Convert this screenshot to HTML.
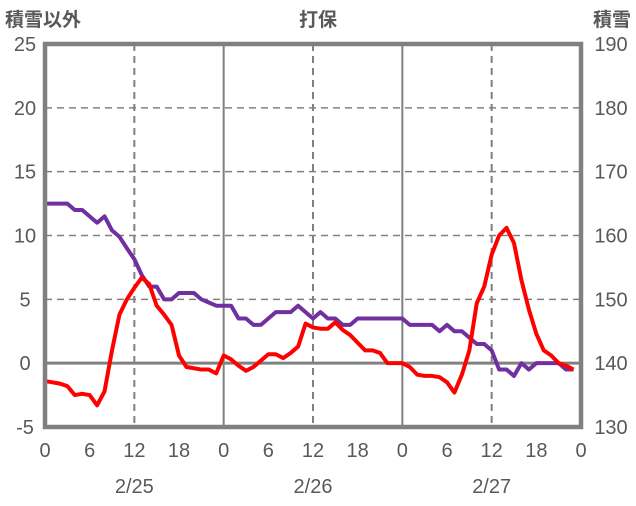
<!DOCTYPE html>
<html><head><meta charset="utf-8"><style>
html,body{margin:0;padding:0;background:#fff;}
svg text{font-family:"Liberation Sans","Noto Sans CJK JP",sans-serif;fill:#595959;}
</style></head><body>
<svg id="chart" width="636" height="501" viewBox="0 0 636 501" xmlns="http://www.w3.org/2000/svg">
<text x="5" y="26" font-size="19" font-weight="bold">積雪以外</text>
<text x="318" y="26" font-size="19" font-weight="bold" text-anchor="middle">打保</text>
<text x="631" y="26" font-size="19" font-weight="bold" text-anchor="end">積雪</text>
<g id="grid"></g><g id="series"></g><g id="axes"></g>
</svg>
<script>
const hours = Array.from({length:72},(_,i)=>i);
const redValues = [-1.4,-1.5,-1.6,-1.8,-2.5,-2.4,-2.5,-3.3,-2.2,1.0,3.8,5.0,5.9,6.7,6.2,4.5,3.8,3.0,0.6,-0.3,-0.4,-0.5,-0.5,-0.8,
0.6,0.3,-0.2,-0.6,-0.3,0.2,0.7,0.7,0.4,0.8,1.3,3.1,2.8,2.7,2.7,3.2,2.6,2.2,1.6,1.0,1.0,0.8,0.0,0.0,
0.0,-0.3,-0.9,-1.0,-1.0,-1.1,-1.5,-2.3,-0.9,1.0,4.7,6.0,8.5,10.0,10.6,9.4,6.5,4.2,2.3,1.0,0.6,0.0,-0.2,-0.5];
const purpleValues = [165,165,165,165,164,164,163,162,163,160.8,159.8,158,156.3,153.8,152,152,150,150,151,151,151,150,149.5,149,
149,149,147,147,146,146,147,148,148,148,149,148,147,148,147,147,146,146,147,147,147,147,147,147,
147,146,146,146,146,145,146,145,145,144,143,143,142,139,139,138,140,139,140,140,140,140,139,139];
const leftTicks = [-5,0,5,10,15,20,25];
const rightTicks = [130,140,150,160,170,180,190];
const xTickLabels = ["0","6","12","18","0","6","12","18","0","6","12","18","0"];
const dayLabels = ["2/25","2/26","2/27"];

const X0=45,X1=581,YT=44,YB=427;
const xs=h=>X0+(X1-X0)*h/72;
const yl=v=>YB-(YB-YT)*(v+5)/30;
const yr=v=>YB-(YB-YT)*(v-130)/60;
const NS="http://www.w3.org/2000/svg";
function mk(tag,attrs,parent,text){const e=document.createElementNS(NS,tag);for(const k in attrs)e.setAttribute(k,attrs[k]);if(text!==undefined)e.textContent=text;parent.appendChild(e);return e;}
const grid=document.getElementById('grid'),series=document.getElementById('series'),axes=document.getElementById('axes');
leftTicks.forEach(v=>{
  if(v>-5&&v<25&&v!==0){const l=mk('line',{x1:X0,x2:X1,y1:yl(v),y2:yl(v),stroke:'#808080','stroke-width':1.5,'stroke-dasharray':'7,5'},grid);
  
  }
  const t=mk('text',{x:25,y:yl(v)+7,'font-size':20,'text-anchor':'middle'},axes,String(v));
  
  
});
rightTicks.forEach(v=>{
  const t=mk('text',{x:611,y:yr(v)+7,'font-size':20,'text-anchor':'middle'},axes,String(v));
  
  
});
xTickLabels.forEach((s,i)=>{
  const h=i*6;
  if(h>0&&h<72&&h%12===0){
    const day=h%24===0;
    const l=mk('line',{x1:xs(h),x2:xs(h),y1:YT,y2:YB,stroke:'#808080','stroke-width':2,'stroke-dasharray':day?'none':'7,5'},grid);
    
    
  }
  const t=mk('text',{x:xs(h),y:457,'font-size':20,'text-anchor':'middle'},axes,s);
  
  
});
dayLabels.forEach((s,i)=>{
  const t=mk('text',{x:xs(12+24*i),y:493,'font-size':20,'text-anchor':'middle'},axes,s);
  
  
});
const zl=mk('line',{x1:X0,x2:X1,y1:yl(0),y2:yl(0),stroke:'#808080','stroke-width':3},grid);


const fr=mk('rect',{x:X0,y:YT,width:X1-X0,height:YB-YT,fill:'none',stroke:'#808080','stroke-width':4.5},axes);


const pp=mk('polyline',{points:hours.map(h=>xs(h)+','+yr(purpleValues[h])).join(' '),fill:'none',stroke:'#7030A0','stroke-width':4,'stroke-linejoin':'round'},series);


const rp=mk('polyline',{points:hours.map(h=>xs(h)+','+yl(redValues[h])).join(' '),fill:'none',stroke:'#FF0000','stroke-width':4,'stroke-linejoin':'round'},series);


</script>
</body></html>
